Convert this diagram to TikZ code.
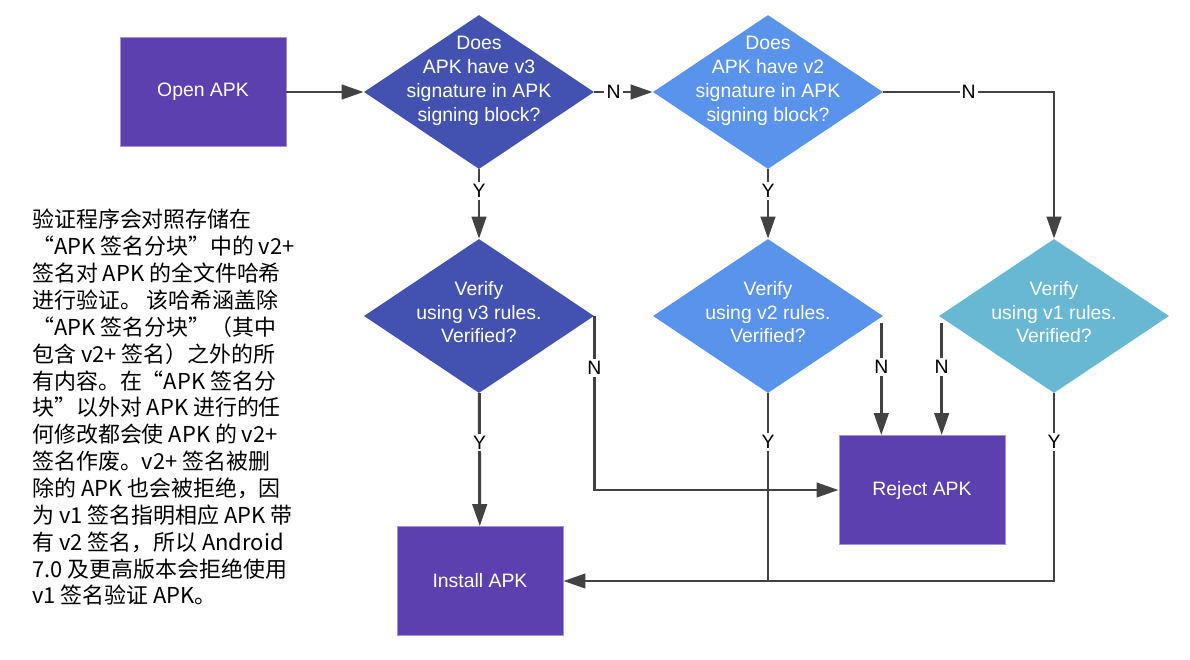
\documentclass[tikz,border=0pt]{standalone}
\usepackage{fontspec}
\setmainfont{Liberation Sans}
\newfontfamily\cjkfont{Noto Sans CJK SC}
\usetikzlibrary{arrows.meta,shapes.geometric,positioning}
\definecolor{boxpurple}{HTML}{5C40B0}
\definecolor{boxedge}{HTML}{A493DC}
\definecolor{vthreeblue}{HTML}{4352B0}
\definecolor{vtwoblue}{HTML}{5A93EC}
\definecolor{vonecyan}{HTML}{69B8D3}
\definecolor{linegray}{HTML}{424242}
\tikzset{
  flowfont/.style={font=\fontsize{13.8}{17}\selectfont},
  stepbox/.style={draw=boxedge,line width=0.6pt,fill=boxpurple,text=white,minimum width=4.15cm,minimum height=2.72cm,flowfont},
  decision/.style={diamond,fill=#1,text=white,align=center,aspect=1.5,inner sep=-0.6cm,minimum width=5.75cm,minimum height=3.85cm,flowfont},
  askshift/.style={text depth=0.65cm},
  checkshift/.style={text depth=0.2cm},
  flow/.style={-{Triangle[length=0.55cm,width=0.36cm]},line width=2.1pt,linegray},
  plain/.style={line width=2.1pt,linegray},
  yn/.style={fill=white,inner sep=1.5pt,text=black,flowfont}
}

\begin{document}
\begin{tikzpicture}[x=0.025cm,y=-0.025cm]
  \useasboundingbox (0,0) rectangle (1190,659);
  \node[stepbox] (open) at (203,92) {Open APK};
  \node[decision=vthreeblue,askshift] (askvthree) at (479,92) {Does\\APK have v3\\signature in APK\\signing block?};
  \node[decision=vtwoblue,askshift] (askvtwo) at (768,92) {Does\\APK have v2\\signature in APK\\signing block?};
  \node[decision=vthreeblue,checkshift] (checkvthree) at (479,316) {Verify\\using v3 rules.\\Verified?};
  \node[decision=vtwoblue,checkshift] (checkvtwo) at (768,316) {Verify\\using v2 rules.\\Verified?};
  \node[decision=vonecyan,checkshift] (checkvone) at (1054,316) {Verify\\using v1 rules.\\Verified?};
  \node[stepbox] (install) at (480,581) {Install APK};
  \node[stepbox] (reject) at (922,490) {Reject APK};
  \node[anchor=north west,inner sep=0pt,align=left,font=\cjkfont\fontsize{15.6}{19.1}\selectfont] (note) at (32,209) {%
    验证程序会对照存储在\\
    “APK 签名分块”中的 v2+\\
    签名对 APK 的全文件哈希\\
    进行验证。 该哈希涵盖除\\
    “APK 签名分块”（其中\\
    包含 v2+ 签名）之外的所\\
    有内容。在“APK 签名分\\
    块”以外对 APK 进行的任\\
    何修改都会使 APK 的 v2+\\
    签名作废。v2+ 签名被删\\
    除的 APK 也会被拒绝，因\\
    为 v1 签名指明相应 APK 带\\
    有 v2 签名，所以 Android\\
    7.0 及更高版本会拒绝使用\\
    v1 签名验证 APK。};
  \draw[flow] (open) -- (askvthree);
  \draw[flow] (askvthree) -- node[yn,pos=0.33] {N} (askvtwo);
  \draw[flow] (askvthree) -- node[yn,pos=0.31] {Y} (checkvthree);
  \draw[flow] (askvtwo) -- node[yn,pos=0.31] {Y} (checkvtwo);
  \draw[flow] (askvtwo.east) -| node[yn,pos=0.25] {N} (checkvone.north);
  \draw[flow] (checkvthree) -- node[yn,pos=0.37] {Y} (install);
  \draw[flow] (checkvthree.east) |- node[yn,pos=0.15] {N} (reject.west);
  \coordinate (nvtwo) at ([shift={(-2,7)}]checkvtwo.east);
  \coordinate (nvone) at ([shift={(3,7)}]checkvone.west);
  \draw[flow] (nvtwo) -- node[yn,pos=0.39] {N} (nvtwo |- reject.north);
  \draw[flow] (nvone) -- node[yn,pos=0.39] {N} (nvone |- reject.north);
  \draw[plain] (checkvtwo.south) -- node[yn,pos=0.26] {Y} (checkvtwo.south |- install.east);
  \draw[flow] (checkvone.south) |- node[yn,pos=0.13] {Y} (install.east);
\end{tikzpicture}
\end{document}
